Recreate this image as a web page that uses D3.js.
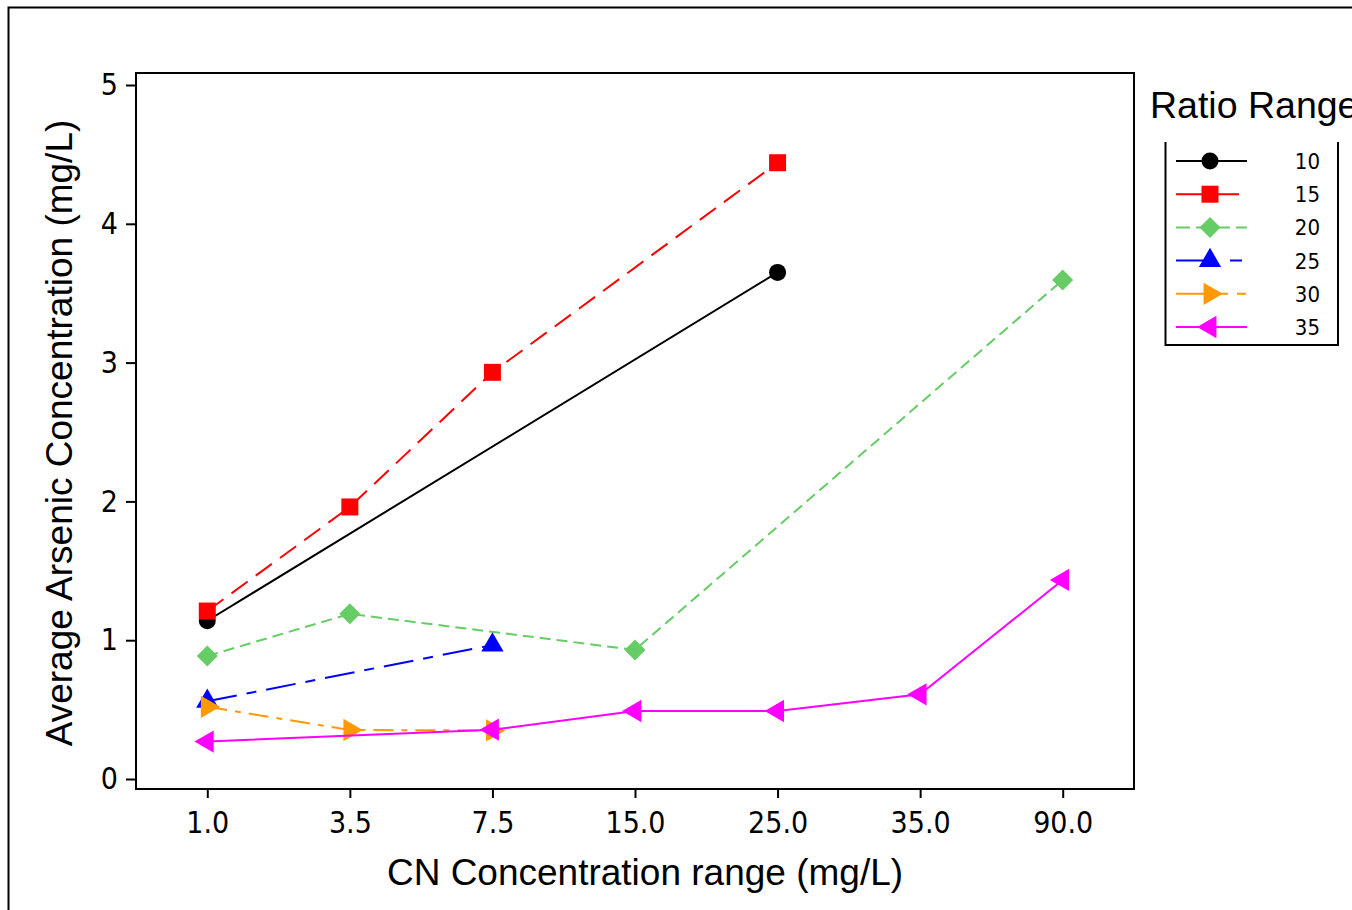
<!DOCTYPE html>
<html>
<head>
<meta charset="utf-8">
<script src="https://cdn.jsdelivr.net/npm/d3@7"></script>
<style>
  html, body { margin: 0; padding: 0; background: #fff; overflow: hidden; }
  svg { display: block; }
  .tick text { font-family: "DejaVu Sans Condensed", "DejaVu Sans", sans-serif; font-stretch: condensed; }
</style>
</head>
<body>
<svg id="chart" width="1352" height="910"></svg>
<script>
// ---- data ----
const categories = ["1.0", "3.5", "7.5", "15.0", "25.0", "35.0", "90.0"];
const yTicks = [0, 1, 2, 3, 4, 5];
const seriesNames = ["10", "15", "20", "25", "30", "35"];
const values10 = [1.14, null, null, null, 3.65, null, null];
const values15 = [1.21, 1.96, 2.93, null, 4.44, null, null];
const values20 = [0.886, 1.19, null, 0.93, null, null, 3.595];
const values25 = [0.56, null, 0.965, null, null, null, null];
const values30 = [0.52, 0.353, 0.35, null, null, null, null];
const values35 = [0.27, null, 0.355, 0.49, 0.49, 0.61, 1.434];
const xTitle = "CN Concentration range (mg/L)";
const yTitle = "Average Arsenic Concentration (mg/L)";
const legendTitle = "Ratio Range";

// ---- styles ----
const styles = [
  { color: "#000000", dash: null,         legendDash: null,              marker: "circle" },
  { color: "#ff0000", dash: "20,10",      legendDash: "63,100",          marker: "square" },
  { color: "#66cc66", dash: "11,6",       legendDash: "14,6",            marker: "diamond" },
  { color: "#0000ff", dash: "30,10,10,10",legendDash: "32,22,12,100",    marker: "triUp" },
  { color: "#ff9900", dash: "20,8,6,8",   legendDash: "40,2,10,9,9,100", marker: "triRight" },
  { color: "#ff00ff", dash: null,         legendDash: null,              marker: "triLeft" }
];
const allValues = [values10, values15, values20, values25, values30, values35];

const svg = d3.select("#chart");
const plot = { left: 136, right: 1134, top: 73, bottom: 789 };

// outer frame
svg.append("rect").attr("x", 8.5).attr("y", 7.5).attr("width", 1500).attr("height", 1500)
  .attr("fill", "none").attr("stroke", "#000").attr("stroke-width", 2);

const x = d3.scalePoint().domain(categories).range([plot.left, plot.right]).padding(0.5);
const y = d3.scaleLinear().domain([0, 5]).range([779, 85]);

// axes
const xAxis = svg.append("g").attr("transform", `translate(0,${plot.bottom})`)
  .call(d3.axisBottom(x).tickSize(9).tickPadding(14));
const yAxis = svg.append("g").attr("transform", `translate(${plot.left},0)`)
  .call(d3.axisLeft(y).tickValues(yTicks).tickFormat(d3.format("d")).tickSize(10).tickPadding(8));
[xAxis, yAxis].forEach(g => {
  g.select(".domain").remove();
  g.selectAll(".tick line").attr("stroke", "#000").attr("stroke-width", 2);
  g.selectAll(".tick text").attr("fill", "#000").attr("font-size", 30);
});

// plot frame
svg.append("rect").attr("x", plot.left).attr("y", plot.top)
  .attr("width", plot.right - plot.left).attr("height", plot.bottom - plot.top)
  .attr("fill", "none").attr("stroke", "#000").attr("stroke-width", 2);

// titles
svg.append("text").attr("x", 645).attr("y", 885).attr("text-anchor", "middle")
  .attr("font-family", "Liberation Sans, Arial, sans-serif").attr("font-size", 37).text(xTitle);
svg.append("text").attr("transform", "translate(72,433) rotate(-90)").attr("text-anchor", "middle")
  .attr("font-family", "Liberation Sans, Arial, sans-serif").attr("font-size", 37).text(yTitle);

function markerPath(type) {
  if (type === "circle") return d3.symbol(d3.symbolCircle, 227)();
  if (type === "square") return d3.symbol(d3.symbolSquare, 289)();
  if (type === "diamond") return d3.symbol(d3.symbolSquare, 220)();
  return d3.symbol(d3.symbolTriangle, 215)();
}
function markerRotate(type) {
  if (type === "diamond") return 45;
  if (type === "triRight") return 90;
  if (type === "triLeft") return -90;
  return 0;
}

const line = d3.line().x(d => x(d.cat)).y(d => y(d.v));

allValues.forEach((vals, i) => {
  const st = styles[i];
  const pts = categories.map((c, j) => ({ cat: c, v: vals[j] })).filter(d => d.v !== null);
  const g = svg.append("g");
  g.append("path").datum(pts).attr("d", line).attr("fill", "none")
    .attr("stroke", st.color).attr("stroke-width", 2)
    .attr("stroke-dasharray", st.dash);
  g.selectAll("path.m").data(pts).enter().append("path").attr("class", "m")
    .attr("d", markerPath(st.marker))
    .attr("transform", d => `translate(${x(d.cat)},${y(d.v)}) rotate(${markerRotate(st.marker)})`)
    .attr("fill", st.color);
});

// legend
svg.append("text").attr("x", 1150).attr("y", 118)
  .attr("font-family", "Liberation Sans, Arial, sans-serif").attr("font-size", 37.5).text(legendTitle);
svg.append("path").attr("d", "M1165.5,142 V345 H1338 V142").attr("fill", "none")
  .attr("stroke", "#000").attr("stroke-width", 2);
const ly = d3.scalePoint().domain(seriesNames).range([161, 327]);
seriesNames.forEach((name, i) => {
  const st = styles[i];
  const yy = ly(name);
  svg.append("line").attr("x1", 1176).attr("x2", 1247).attr("y1", yy).attr("y2", yy)
    .attr("stroke", st.color).attr("stroke-width", 2).attr("stroke-dasharray", st.legendDash);
  svg.append("path").attr("d", markerPath(st.marker))
    .attr("transform", `translate(1210,${yy}) rotate(${markerRotate(st.marker)})`)
    .attr("fill", st.color);
  svg.append("text").attr("x", 1320).attr("y", yy).attr("dy", "0.36em").attr("text-anchor", "end")
    .attr("font-family", "DejaVu Sans Condensed, DejaVu Sans, sans-serif")
    .attr("font-stretch", "condensed").attr("font-size", 22).text(name);
});
</script>
</body>
</html>
